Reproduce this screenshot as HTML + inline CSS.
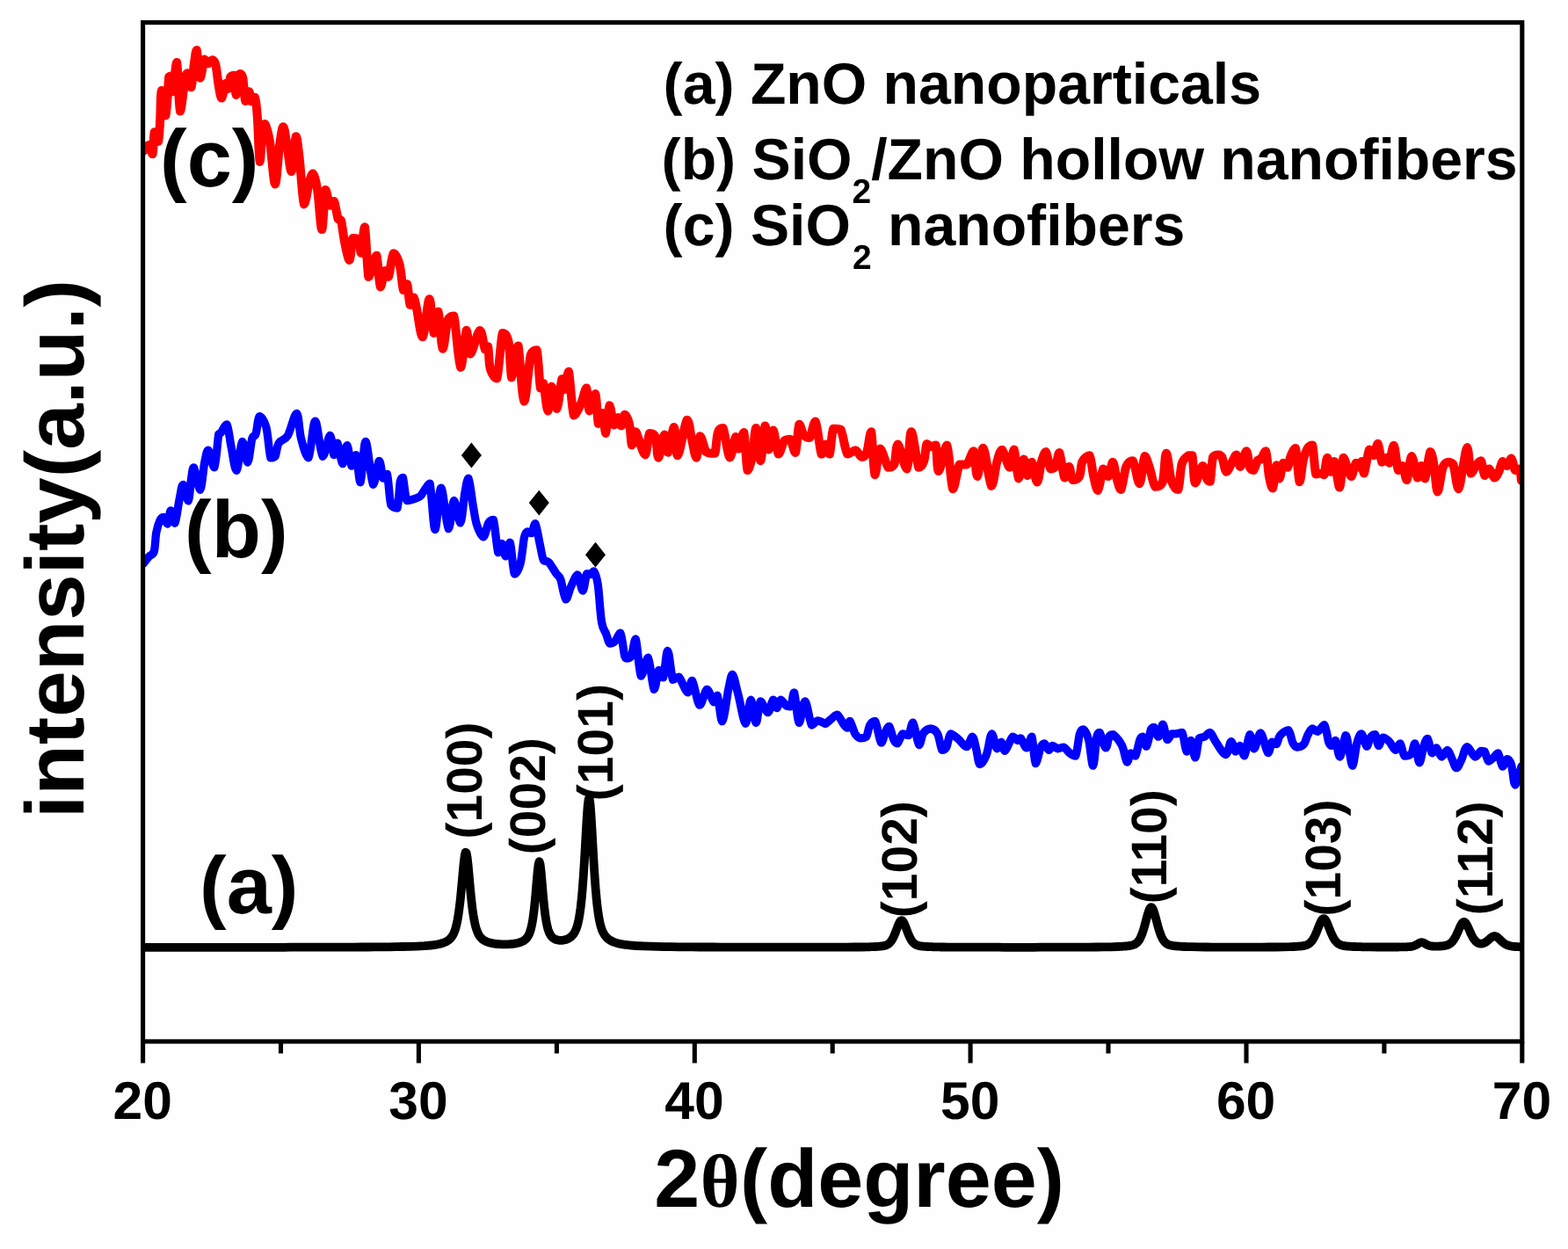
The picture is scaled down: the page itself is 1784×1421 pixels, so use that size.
<!DOCTYPE html>
<html lang="en">
<head>
<meta charset="utf-8">
<title>XRD patterns of ZnO nanoparticles, SiO2/ZnO hollow nanofibers and SiO2 nanofibers</title>
<style>
html,body{margin:0;padding:0;background:#fff;}
body{width:1784px;height:1421px;overflow:hidden;}
svg{display:block;}
text{font-family:"Liberation Sans",sans-serif;font-weight:bold;fill:#000;text-rendering:geometricPrecision;}
.sym{font-family:"Liberation Serif",serif;font-weight:bold;}
</style>
</head>
<body>
<svg width="1784" height="1421" viewBox="0 0 1784 1421">
<rect x="0" y="0" width="1784" height="1421" fill="#fefefe"/>
<defs><clipPath id="plot"><rect x="162.6" y="25.6" width="1569.2" height="1159.3"/></clipPath></defs>
<!-- data curves -->
<g fill="none" stroke-linejoin="round" stroke-linecap="round" clip-path="url(#plot)">
<path id="curve-c" stroke="#ff0000" stroke-width="10" d="M163.5,171.6 C164.5,170.5 167.7,165.1 169.4,165.1 C171.1,165.8 172.6,175.3 173.6,175.3
C174.7,172.8 174.6,152.7 175.7,150.3 C176.7,150.3 179.0,160.9 180.1,160.9 C181.1,158.9 181.5,147.8 182.1,138.1
C182.7,128.5 182.7,104.1 183.8,103.0 C184.9,103.0 187.1,131.4 188.5,131.4 C189.9,128.8 191.3,94.9 192.2,87.4
C193.2,86.6 193.6,86.6 194.3,86.6 C195.0,89.4 195.3,104.3 196.5,104.3 C197.6,101.7 199.8,70.9 201.2,70.9
C202.6,74.6 203.3,123.9 204.9,126.6 C206.5,126.6 209.3,94.7 210.8,87.4 C212.3,83.2 212.6,83.2 213.7,83.2
C214.8,85.2 216.4,99.3 217.6,99.3 C218.8,97.4 219.9,79.3 220.9,72.2 C222.0,65.2 222.7,57.0 223.8,57.0
C224.9,59.8 226.3,87.0 227.7,88.8 C229.1,88.8 230.9,70.3 232.4,67.5 C234.0,67.5 235.5,72.1 237.0,72.2
C238.5,72.2 240.1,68.2 241.6,68.2 C243.0,68.5 244.2,69.0 245.4,73.9 C246.6,78.8 247.7,91.3 248.8,97.6
C249.9,103.8 250.9,111.6 252.2,111.6 C253.5,111.2 255.2,96.8 256.4,95.0 C257.6,95.0 258.5,100.9 259.5,100.9
C260.4,99.7 261.1,90.0 262.3,87.4 C263.5,85.7 265.5,85.7 266.6,85.7 C267.6,89.2 267.5,108.0 268.6,108.0
C269.7,107.8 271.7,87.2 273.0,84.1 C274.3,84.1 275.3,84.1 276.4,89.1 C277.4,94.3 278.0,112.4 279.2,115.0
C280.4,115.0 282.4,104.3 283.4,104.3 C284.5,104.4 284.6,114.2 285.6,115.3 C286.7,115.3 288.7,110.7 289.9,110.7
C291.0,113.4 291.8,119.1 292.7,131.4 C293.7,143.6 294.6,181.8 295.6,184.1 C296.6,184.1 297.7,152.0 298.6,144.9
C299.6,141.0 300.1,141.0 301.5,141.0 C302.9,143.8 305.2,150.4 307.1,161.8 C309.0,173.2 311.2,208.8 313.0,209.4
C314.8,209.4 316.5,176.0 318.1,165.1 C319.6,154.3 320.9,144.2 322.3,144.2 C323.7,144.2 325.0,156.6 326.5,165.1
C328.1,173.6 329.9,195.2 331.6,195.2 C333.3,193.6 335.1,157.5 336.7,155.3 C338.2,155.3 339.3,169.2 340.9,182.0
C342.4,194.9 344.1,228.1 345.9,232.4 C347.8,232.4 350.2,213.2 351.9,207.4 C353.5,201.6 354.5,197.6 356.1,197.6
C357.6,199.0 359.5,205.2 361.1,215.8 C362.8,226.4 364.7,261.0 366.2,261.1 C367.7,261.1 368.8,220.6 370.3,216.0
C371.8,216.0 373.7,231.6 375.3,233.8 C377.0,233.8 378.5,229.1 380.1,229.1 C381.6,231.6 383.3,245.4 384.6,249.0
C386.0,250.7 386.7,249.0 388.0,250.7 C389.3,255.2 390.6,268.5 392.2,276.0 C393.8,283.6 396.1,295.9 397.6,295.9
C399.2,295.1 399.7,274.8 401.5,270.9 C403.3,270.9 406.7,270.9 408.3,272.6 C409.8,275.5 409.7,287.8 410.8,287.8
C411.9,285.4 413.6,258.3 415.0,258.3 C416.4,262.8 417.7,307.7 419.3,314.9 C420.8,314.9 422.8,305.4 424.3,301.4
C425.9,297.3 427.1,290.7 428.5,290.7 C430.0,294.9 431.2,323.5 432.8,326.4 C434.3,326.4 436.3,310.0 437.8,308.1
C439.4,308.1 440.4,314.9 442.1,314.9 C443.7,311.6 445.5,290.6 447.6,288.3 C449.7,288.3 452.8,294.4 454.7,301.4
C456.6,308.3 457.5,326.4 459.0,330.1 C460.4,330.1 461.9,323.3 463.2,323.3 C464.4,326.1 465.3,344.4 466.6,347.0
C467.8,347.0 469.5,338.5 470.8,338.5 C472.0,339.4 472.5,344.6 474.2,352.0 C475.8,359.5 478.5,383.3 480.9,383.3
C483.3,381.3 486.4,340.9 488.5,340.2 C490.6,340.2 491.9,376.7 493.6,379.1 C495.3,379.1 497.0,354.6 498.6,354.6
C500.3,357.5 501.9,395.2 503.7,396.8 C505.5,396.8 507.5,370.0 509.6,363.9 C511.7,359.6 514.0,359.6 516.4,359.6
C518.8,368.6 521.6,415.2 524.0,417.9 C526.4,417.9 528.9,378.2 530.7,375.7 C532.6,375.7 532.4,402.6 535.0,402.7
C537.5,402.7 543.1,376.9 545.9,376.0 C548.8,376.0 550.3,394.6 551.9,397.6 C553.4,397.6 554.3,394.3 555.2,394.3
C556.2,397.9 556.1,413.5 557.8,419.6 C559.5,425.6 563.1,430.5 565.4,430.5 C567.7,423.8 569.6,385.8 571.8,378.9
C574.0,378.9 576.9,380.5 578.6,389.0 C580.3,397.4 580.8,426.4 582.0,429.5 C583.1,429.5 584.1,413.6 585.3,407.6
C586.6,401.5 587.7,393.4 589.6,393.4 C591.4,401.5 593.9,454.9 596.3,456.6 C598.7,456.6 601.5,413.1 603.9,403.3
C606.3,398.3 608.8,398.3 610.7,398.3 C612.5,404.6 613.6,435.0 614.9,441.4 C616.2,441.4 616.9,436.3 618.3,436.3
C619.7,440.6 621.8,467.0 623.3,467.5 C624.9,467.5 625.9,440.1 627.6,439.7 C629.3,439.7 631.5,465.0 633.5,465.0
C635.5,463.6 637.8,434.9 639.4,431.2 C640.9,431.2 641.5,443.0 642.8,443.0 C644.0,441.6 645.3,422.8 647.0,422.8
C648.7,427.7 650.5,466.7 652.9,472.6 C655.3,472.6 659.0,463.5 661.4,458.2 C663.7,453.0 665.7,441.4 667.3,441.4
C668.8,442.9 669.0,466.4 670.6,467.5 C672.3,467.5 675.7,448.1 677.4,448.1 C679.1,450.5 679.4,478.2 680.8,481.9
C682.2,481.9 684.4,470.1 685.8,470.1 C687.3,471.9 688.0,492.9 689.2,492.9 C690.5,491.4 691.9,462.8 693.4,461.3
C695.0,461.3 696.8,481.3 698.5,483.6 C700.2,483.6 702.2,475.1 703.6,475.1 C705.0,475.3 705.7,484.4 707.0,484.4
C708.2,483.9 709.3,471.9 710.8,471.8 C712.4,471.8 714.9,477.8 716.2,483.6 C717.6,489.4 717.7,505.1 718.8,506.4
C719.9,506.4 721.7,492.4 723.0,491.2 C724.3,491.2 724.6,494.4 726.4,498.8 C728.2,503.1 731.9,517.4 734.0,517.4
C736.1,516.4 737.1,496.2 739.1,492.9 C741.0,492.9 744.1,492.9 745.8,497.1 C747.5,501.7 747.5,520.7 749.2,520.7
C750.9,520.3 754.1,495.5 755.9,494.6 C757.8,494.6 758.3,514.8 760.2,514.8 C762.0,513.4 765.1,486.1 766.9,486.1
C768.8,486.7 768.7,518.2 771.1,518.2 C773.6,516.8 778.9,480.6 781.6,477.7 C784.3,477.7 785.4,493.3 787.2,500.5
C789.0,507.7 790.7,520.7 792.3,520.7 C793.8,520.0 794.7,497.4 796.5,496.2 C798.3,496.2 801.3,510.7 803.2,514.0
C805.2,515.7 806.6,515.4 808.3,515.7 C810.0,515.7 812.0,515.7 813.4,515.7 C814.8,511.7 815.2,496.8 816.8,492.0
C818.3,487.2 820.4,487.0 822.7,487.0 C824.9,491.7 827.9,518.7 830.3,520.4 C832.7,520.4 835.3,498.7 837.0,497.1
C838.7,497.1 838.9,510.6 840.4,510.6 C842.0,509.8 844.6,492.0 846.3,492.0 C848.0,496.1 848.9,530.8 850.5,535.1
C852.1,535.1 854.4,526.3 856.0,518.2 C857.7,510.2 858.7,487.0 860.3,487.0 C861.8,488.0 863.6,524.2 865.3,524.2
C867.0,523.7 868.9,486.6 870.4,484.5 C872.0,484.5 873.1,510.6 874.6,511.5 C876.2,511.5 877.9,489.5 879.7,489.5
C881.5,490.4 883.5,514.6 885.6,516.6 C887.7,516.6 890.1,504.2 892.4,501.4 C894.6,499.7 897.0,499.7 899.1,499.7
C901.2,501.9 903.3,514.9 905.0,514.9 C906.7,512.0 907.7,486.1 909.3,482.8 C910.8,482.8 912.4,492.1 914.3,494.6
C916.3,497.1 918.8,498.0 921.1,498.0 C923.3,495.4 925.6,479.4 927.8,479.4 C930.1,482.5 932.6,512.2 934.6,516.6
C936.6,516.6 938.1,505.6 939.7,505.6 C941.2,505.6 942.5,516.6 943.9,516.6 C945.3,513.6 946.0,492.5 948.1,487.8
C950.2,487.8 953.9,487.8 956.6,488.7 C959.2,493.5 961.3,512.6 964.2,516.6 C967.0,516.6 970.8,512.3 973.4,512.3
C976.1,512.9 978.1,519.5 980.2,519.9 C982.3,519.9 984.3,519.7 986.1,514.9 C987.9,510.1 989.6,491.2 991.2,491.2
C992.7,495.4 993.7,537.0 995.4,540.2 C997.1,540.2 998.8,512.0 1001.3,510.6
C1003.9,510.6 1007.9,528.8 1010.6,531.8 C1013.3,531.8 1015.5,531.8 1017.4,528.4
C1019.2,524.0 1019.2,505.6 1021.6,505.6 C1024.0,506.4 1029.2,533.4 1031.7,533.4
C1034.3,531.1 1034.5,491.5 1036.8,491.2 C1039.0,491.2 1042.8,526.1 1045.2,531.8
C1047.6,531.8 1049.6,529.4 1051.1,525.0 C1052.7,520.6 1053.1,507.9 1054.5,505.1
C1055.9,505.1 1057.9,507.9 1059.6,508.1 C1061.3,508.1 1063.3,506.4 1064.7,506.4
C1066.1,511.1 1065.9,536.0 1068.0,536.0 C1070.2,536.0 1074.7,506.4 1077.3,506.4
C1080.0,509.8 1081.7,552.6 1084.1,556.2 C1086.5,556.2 1089.0,533.0 1091.7,528.4
C1094.4,528.4 1097.5,528.4 1100.1,528.4 C1102.8,525.8 1105.8,513.2 1107.7,513.2
C1109.7,515.4 1110.1,541.9 1112.0,541.9 C1113.8,541.3 1116.1,509.8 1118.7,509.8
C1121.4,511.6 1125.3,550.3 1127.9,552.9 C1130.5,552.9 1132.3,531.8 1134.4,525.0
C1136.4,518.2 1137.9,511.8 1140.3,511.8 C1142.7,513.0 1146.5,531.8 1148.7,531.8
C1151.0,531.7 1152.1,511.5 1153.8,511.5 C1155.5,513.6 1157.0,542.6 1158.9,544.4
C1160.7,544.4 1163.1,523.0 1164.8,522.5 C1166.5,522.5 1167.4,540.5 1169.0,541.0
C1170.5,541.0 1172.2,525.8 1174.1,525.8 C1175.9,527.1 1178.1,548.6 1180.0,548.6
C1181.8,548.5 1183.3,530.8 1185.0,525.0 C1186.7,519.2 1188.4,514.0 1190.1,514.0
C1191.8,515.4 1193.3,530.8 1195.2,533.4 C1197.0,533.4 1199.4,533.2 1201.1,530.1
C1202.8,527.0 1203.6,514.9 1205.3,514.9 C1207.0,517.1 1209.4,540.9 1211.2,543.6
C1213.0,543.6 1214.7,530.9 1216.3,530.9 C1217.8,531.3 1218.5,544.3 1220.5,546.1
C1222.5,546.1 1226.3,545.4 1228.1,541.9 C1229.9,538.4 1229.6,528.9 1231.5,525.0
C1233.4,521.1 1237.5,518.2 1239.6,518.2 C1241.7,521.1 1242.6,535.3 1244.2,541.9
C1245.8,548.5 1247.4,557.9 1249.2,557.9 C1251.1,556.5 1253.2,536.1 1255.1,533.4
C1257.1,533.4 1259.2,541.9 1261.0,541.9 C1262.9,540.6 1264.6,525.8 1266.1,525.8
C1267.7,526.1 1268.8,538.4 1270.3,543.6 C1271.9,548.8 1273.6,557.1 1275.4,557.1
C1277.2,555.0 1279.1,536.4 1281.3,530.9 C1283.6,525.4 1286.4,524.2 1288.9,524.2
C1291.5,527.4 1294.3,550.3 1296.5,550.3 C1298.8,549.5 1300.5,521.9 1302.4,519.1
C1304.4,519.1 1306.4,527.7 1308.3,533.4 C1310.3,539.2 1311.9,551.2 1314.3,553.7
C1316.6,553.7 1320.6,553.7 1322.7,548.6 C1324.8,542.3 1325.2,516.0 1326.9,515.7
C1328.6,515.7 1330.6,540.1 1332.8,547.0 C1335.1,553.9 1338.5,557.1 1340.4,557.1
C1342.4,553.9 1342.7,534.0 1344.7,527.5 C1346.6,521.1 1350.3,519.8 1352.3,518.2
C1354.2,518.2 1355.2,518.2 1356.5,518.2 C1357.8,523.5 1357.9,547.5 1359.9,549.5
C1361.8,549.5 1366.1,530.8 1368.3,530.1 C1370.6,530.1 1372.0,542.3 1373.4,545.3
C1374.8,547.8 1375.6,547.8 1376.8,547.8 C1377.9,543.6 1378.6,525.0 1380.1,519.9
C1381.7,517.4 1384.4,517.4 1386.0,517.4 C1387.7,517.4 1388.7,517.4 1390.3,519.9
C1391.8,523.2 1393.4,536.0 1395.3,536.8 C1397.3,536.8 1400.2,528.2 1402.1,525.0
C1404.0,521.8 1405.2,517.4 1406.8,517.4 C1408.3,518.4 1409.4,530.9 1411.3,530.9
C1413.2,530.2 1416.3,513.2 1418.1,513.2 C1419.8,513.3 1420.6,528.1 1422.0,531.8
C1423.3,535.1 1424.6,535.1 1426.2,535.1 C1427.7,533.7 1429.8,525.4 1431.2,523.3
C1432.7,522.5 1433.1,523.3 1434.6,522.5 C1436.1,520.8 1438.7,513.2 1440.2,513.2
C1441.8,516.4 1442.6,534.9 1443.9,541.9 C1445.2,548.9 1446.7,555.4 1448.1,555.4
C1449.5,553.3 1451.1,531.1 1452.4,529.2 C1453.6,529.2 1454.5,544.4 1455.7,544.4
C1457.0,544.0 1458.4,528.8 1460.0,526.7 C1461.5,526.7 1463.6,531.8 1465.0,531.8
C1466.4,530.5 1466.9,522.7 1468.4,519.1 C1469.9,515.5 1472.3,510.1 1474.0,510.1
C1475.7,515.0 1477.1,546.1 1478.5,548.3 C1480.0,548.3 1481.2,529.7 1482.8,523.3
C1484.3,516.9 1486.1,512.6 1487.8,509.8 C1489.6,507.0 1491.7,506.4 1493.2,506.4
C1494.8,511.3 1495.5,534.0 1497.1,539.4 C1498.8,539.4 1501.5,538.5 1503.0,538.5
C1504.6,538.7 1505.2,540.2 1506.4,540.2 C1507.6,537.2 1508.9,521.3 1510.1,520.8
C1511.4,520.8 1512.7,536.1 1514.0,536.8 C1515.4,536.8 1516.6,525.0 1518.2,525.0
C1519.9,528.0 1522.5,554.6 1524.2,554.6 C1525.8,553.9 1526.8,524.3 1528.4,520.8
C1529.9,520.8 1531.9,529.9 1533.4,533.4 C1535.0,537.0 1536.1,541.9 1537.7,541.9
C1539.2,540.8 1541.2,528.4 1542.7,526.7 C1544.3,526.7 1545.8,531.8 1547.0,531.8
C1548.1,531.5 1548.6,525.0 1549.5,525.0 C1550.3,526.1 1550.6,538.5 1552.0,538.5
C1553.4,536.3 1556.1,514.9 1557.9,511.5 C1559.8,511.5 1561.4,518.2 1563.0,518.2
C1564.6,517.1 1566.2,504.7 1567.7,504.7 C1569.3,506.0 1570.7,523.2 1572.3,525.8
C1573.9,525.8 1576.0,520.8 1577.4,520.8 C1578.8,520.9 1579.3,526.7 1580.7,526.7
C1582.2,524.4 1584.1,506.8 1585.8,506.8 C1587.5,508.2 1589.2,531.2 1590.9,535.1
C1592.6,535.1 1594.3,530.1 1595.9,530.1 C1597.6,531.9 1599.0,546.1 1600.7,546.1
C1602.4,544.3 1604.1,519.5 1606.1,519.1 C1608.1,519.1 1611.0,541.8 1612.8,543.6
C1614.7,543.6 1615.7,530.1 1617.1,530.1 C1618.5,530.2 1619.6,544.4 1621.3,544.4
C1623.0,541.8 1625.5,516.7 1627.2,514.0 C1628.9,514.0 1630.0,520.8 1631.4,528.4
C1632.8,536.0 1634.0,559.1 1635.6,559.6 C1637.3,559.6 1639.6,537.4 1641.6,531.8
C1643.5,526.1 1645.5,526.4 1647.5,525.8 C1649.4,525.8 1651.4,525.8 1653.4,528.4
C1655.3,533.4 1657.5,555.7 1659.3,556.2 C1661.1,556.2 1662.7,539.6 1664.4,531.8
C1666.0,523.9 1667.9,509.0 1669.4,509.0 C1671.0,510.1 1672.0,535.1 1673.6,538.5
C1675.3,538.5 1677.7,531.6 1679.6,529.2 C1681.5,526.8 1683.4,524.2 1685.0,524.2
C1686.6,526.1 1687.7,539.5 1689.2,541.0 C1690.8,541.0 1692.5,533.4 1694.3,533.4
C1696.1,533.9 1698.4,543.0 1700.2,543.6 C1702.0,543.6 1703.7,539.9 1705.3,536.8
C1706.8,533.7 1708.0,526.1 1709.5,525.0 C1711.1,525.0 1712.9,530.1 1714.6,530.1
C1716.3,529.5 1718.1,521.6 1719.6,521.6 C1721.2,522.5 1722.3,533.2 1723.9,535.1
C1725.4,535.1 1727.8,533.4 1728.9,533.4 C1730.1,535.4 1730.6,544.7 1731.0,547.0"/>
<path id="curve-b" stroke="#0000ff" stroke-width="9.3" d="M163.5,640.9 C164.5,639.6 167.5,635.5 169.4,633.3 C171.4,631.0 173.9,632.0 175.3,627.4
C176.7,622.7 176.7,611.3 177.9,605.4 C179.0,599.5 180.7,594.7 182.1,591.9 C183.5,589.1 184.9,588.5 186.3,588.5
C187.7,589.2 189.2,596.1 190.5,596.1 C191.9,594.8 192.8,581.1 194.3,580.9 C195.7,580.9 197.4,595.3 199.0,595.3
C200.6,593.2 202.5,575.6 204.1,568.2 C205.6,560.9 206.6,551.4 208.3,551.4 C210.0,551.6 212.6,569.9 214.2,569.9
C215.7,568.8 216.5,550.9 217.6,544.6 C218.6,538.3 218.9,531.9 220.6,531.9 C222.3,534.0 225.7,557.3 227.7,557.3
C229.7,556.3 231.2,533.5 232.8,526.0 C234.3,518.5 235.2,512.2 237.0,512.2 C238.8,513.1 241.8,531.9 243.8,531.9
C245.7,528.9 247.6,500.5 248.8,493.9 C250.1,492.2 249.8,493.9 251.4,492.2 C252.9,490.4 256.1,482.9 258.1,482.9
C260.1,485.8 261.3,500.4 263.2,509.1 C265.0,517.8 267.0,535.3 269.1,535.3 C271.2,534.2 273.7,503.9 275.8,502.4
C278.0,502.4 279.9,526.0 281.8,526.0 C283.6,525.5 285.3,504.3 286.8,499.0 C288.4,493.9 289.6,498.1 291.0,493.9
C292.5,489.7 293.3,474.9 295.3,473.6 C297.2,473.6 300.8,478.4 302.9,486.3 C305.0,494.2 306.2,515.5 307.9,520.9
C309.6,520.9 311.5,520.9 313.0,519.3 C314.6,516.4 314.8,508.0 317.2,504.1 C319.6,500.1 324.0,501.2 327.4,495.6
C330.7,490.0 335.0,470.3 337.5,470.3 C340.0,470.8 340.3,490.5 342.6,499.0 C344.8,507.4 348.3,520.9 351.0,520.9
C353.7,517.6 355.9,479.3 358.6,479.1 C361.3,479.1 364.2,516.6 367.1,519.3 C369.9,519.3 373.4,495.6 375.5,495.3
C377.6,495.3 378.3,516.1 379.7,517.6 C381.1,517.6 382.3,504.1 384.0,504.1 C385.6,505.7 388.0,527.3 389.9,527.7
C391.7,527.7 393.2,506.6 394.9,506.6 C396.6,507.0 398.3,528.4 400.0,530.2 C401.7,530.2 403.4,517.6 405.1,517.6
C406.8,520.7 408.3,548.8 410.1,548.8 C412.0,546.3 413.7,502.4 416.0,502.4 C418.4,502.8 421.9,547.7 424.5,551.4
C427.0,551.4 429.4,525.5 431.4,524.3 C433.3,524.3 434.4,541.7 435.9,544.2 C437.4,544.2 439.0,539.5 440.5,539.5
C442.0,544.5 443.0,568.2 444.9,574.6 C446.8,578.0 450.2,578.0 452.0,578.0 C453.7,573.5 454.3,553.3 455.3,547.6
C456.4,543.3 457.1,543.3 458.4,543.3 C459.6,547.0 460.9,565.4 462.9,569.5 C465.0,569.5 468.0,568.7 470.5,567.8
C473.1,567.0 475.9,566.4 478.1,564.5 C480.4,562.5 482.2,558.4 484.1,556.0 C485.9,553.6 487.3,550.1 489.1,550.1
C491.0,557.8 492.9,601.6 495.0,602.5 C497.1,602.5 499.3,555.3 501.8,555.2 C504.3,555.2 507.8,599.2 510.2,601.6
C512.7,601.6 514.2,570.7 516.5,569.5 C518.7,569.5 521.7,594.9 523.8,594.9 C525.8,593.5 527.3,569.5 528.8,561.1
C530.4,552.6 531.5,544.2 533.0,544.2 C534.6,546.4 536.6,565.9 538.1,574.6 C539.7,583.3 540.4,590.5 542.3,596.6
C544.3,602.6 547.7,610.9 549.9,610.9 C552.2,610.6 553.9,598.1 555.8,594.9 C557.8,591.6 559.6,591.5 561.4,591.5
C563.2,597.1 565.2,624.1 566.8,628.6 C568.4,628.6 569.6,618.5 571.0,618.5 C572.5,619.2 573.7,632.9 575.3,632.9
C576.8,632.6 578.6,617.2 580.3,617.2 C582.0,620.5 583.4,649.3 585.4,653.1 C587.4,653.1 590.3,647.4 592.2,640.5
C594.0,633.6 595.1,617.7 596.4,611.8 C597.7,605.8 598.4,605.8 599.8,605.0 C601.2,605.0 603.3,606.7 604.8,606.7
C606.4,605.1 607.5,595.7 609.1,595.7 C610.6,597.7 612.6,611.6 614.1,618.5 C615.7,625.4 616.7,633.6 618.3,637.1
C620.0,639.6 621.9,637.1 624.3,639.6 C626.6,642.2 630.5,649.1 632.7,652.3 C635.0,655.5 635.9,654.1 637.8,659.1
C639.6,664.0 641.7,680.5 643.7,681.9 C645.7,681.9 647.3,672.1 649.6,667.5 C651.8,662.9 655.0,654.0 657.2,654.0
C659.4,654.8 661.3,672.1 663.0,672.1 C664.8,671.9 666.1,655.8 667.6,652.7 C669.1,652.7 670.5,653.5 671.8,653.5
C673.2,653.0 674.3,649.8 675.7,649.8 C677.1,651.8 678.8,655.7 680.3,665.3 C681.7,675.0 682.9,698.3 684.5,707.6
C686.0,716.9 688.0,717.0 689.6,721.1 C691.1,725.2 692.1,730.7 693.8,732.1 C695.5,732.1 697.7,731.5 699.7,729.5
C701.7,727.6 704.1,720.2 705.9,720.2 C707.8,723.1 709.5,741.6 710.7,746.4 C711.9,749.0 711.9,749.0 713.2,749.0
C714.5,749.0 716.6,749.0 718.3,746.4 C720.0,742.8 721.5,727.0 723.3,727.0 C725.2,730.8 726.9,765.7 729.3,769.2
C731.6,769.2 734.9,748.1 737.4,748.1 C739.8,750.6 742.1,782.0 744.1,784.4 C746.1,784.4 747.8,764.7 749.5,762.5
C751.3,762.5 752.9,770.9 754.6,770.9 C756.3,767.3 757.8,740.5 759.7,740.5 C761.5,740.9 763.5,768.5 765.6,773.4
C767.7,773.4 769.5,770.1 772.3,770.1 C775.1,772.5 779.9,787.1 782.5,787.8 C785.0,787.8 785.3,774.3 787.5,774.3
C789.8,776.7 793.2,800.5 796.0,802.2 C798.8,802.2 801.8,785.0 804.4,784.4 C807.1,784.4 810.1,797.7 812.0,798.8
C814.0,798.8 814.6,791.2 816.2,791.2 C817.9,794.8 819.7,820.7 821.8,820.7 C823.9,819.5 827.0,792.4 828.9,783.6
C830.9,774.7 831.6,767.5 833.5,767.5 C835.3,768.7 837.4,781.0 839.9,790.3 C842.4,799.6 846.0,822.3 848.3,823.3
C850.7,823.3 852.3,796.4 854.3,796.2 C856.2,796.2 858.3,822.2 860.2,822.4 C862.0,822.4 863.0,799.9 865.2,797.9
C867.5,797.9 871.3,810.6 873.7,810.6 C876.1,810.3 877.9,797.1 879.6,796.2 C881.3,796.2 882.4,805.5 883.8,805.5
C885.2,805.5 886.2,796.7 888.0,796.2 C889.9,796.2 892.8,801.7 894.8,803.0 C896.8,803.9 898.4,803.9 899.9,803.9
C901.3,801.3 902.0,787.8 903.6,787.8 C905.1,790.9 907.1,820.7 909.2,822.4 C911.2,822.4 913.5,797.9 915.9,797.9
C918.3,798.4 921.1,821.3 923.5,825.0 C925.9,825.0 927.7,820.2 930.3,819.9 C932.8,819.9 937.1,822.8 938.7,823.3
C940.0,823.3 938.7,823.3 940.0,823.0 C941.3,822.0 944.6,818.8 946.8,817.1 C948.9,815.5 950.4,813.1 952.7,813.1
C954.9,814.3 958.3,822.2 960.3,824.7 C962.2,827.2 963.4,828.1 964.5,828.1 C965.6,827.4 965.6,820.5 967.0,820.5
C968.4,821.6 971.0,831.6 972.9,834.9 C974.9,838.1 976.7,839.4 978.9,839.9 C981.0,839.9 983.8,839.9 985.6,838.2
C987.4,835.7 988.1,827.7 989.8,824.7 C991.5,821.8 993.6,820.5 995.7,820.5
C997.9,823.9 1000.5,843.0 1002.5,845.0 C1004.5,845.0 1006.0,835.4 1007.6,832.3
C1009.1,829.2 1010.2,826.4 1011.8,826.4 C1013.3,828.0 1015.3,838.4 1016.9,841.6
C1018.4,844.9 1019.4,845.8 1021.1,845.8 C1022.8,844.7 1024.9,836.4 1027.0,834.9
C1029.1,834.9 1031.8,836.6 1033.8,836.6 C1035.7,834.4 1036.8,822.2 1038.8,822.2
C1040.8,824.0 1043.6,845.6 1045.6,847.5 C1047.5,847.5 1048.4,837.1 1050.6,834.0
C1052.9,830.9 1056.4,829.0 1059.1,829.0 C1061.8,829.1 1064.6,830.8 1066.7,834.9
C1068.8,838.9 1070.1,850.9 1071.8,853.4 C1073.4,853.4 1075.2,853.2 1076.8,850.1
C1078.5,847.0 1079.3,836.4 1081.6,834.9 C1083.8,834.9 1087.3,838.3 1090.3,840.8
C1093.4,843.3 1097.0,849.7 1099.6,849.7 C1102.3,849.3 1104.6,838.2 1106.4,838.2
C1108.2,838.6 1109.2,846.5 1110.6,851.8 C1112.0,857.0 1112.9,868.4 1114.8,869.5
C1116.8,869.5 1120.2,864.3 1122.4,858.5 C1124.7,852.7 1126.4,836.0 1128.3,834.9
C1130.3,834.9 1132.4,850.2 1134.3,851.8 C1136.1,851.8 1137.8,844.2 1139.3,844.2
C1140.9,844.6 1141.4,854.3 1143.5,854.3 C1145.7,853.3 1149.6,840.2 1152.0,838.2
C1154.4,838.2 1156.4,842.2 1157.9,842.5 C1159.5,842.5 1159.6,839.9 1161.3,839.9
C1163.0,841.3 1165.9,850.9 1168.0,850.9 C1170.2,850.6 1172.3,838.2 1174.0,838.2
C1175.6,841.2 1176.5,866.7 1178.2,868.6 C1179.9,868.6 1182.4,853.9 1184.1,850.1
C1185.8,846.3 1186.8,845.8 1188.3,845.8 C1189.9,846.4 1191.8,853.0 1193.4,853.4
C1194.9,853.4 1195.9,848.7 1197.6,848.4 C1199.3,848.4 1201.4,851.5 1203.5,851.8
C1205.6,851.8 1208.0,850.1 1210.3,850.1 C1212.5,850.9 1214.8,855.1 1217.0,856.8
C1219.3,858.5 1221.8,860.2 1223.7,860.2 C1225.6,856.5 1227.0,839.9 1228.4,834.9
C1229.9,829.8 1231.0,829.8 1232.7,829.8 C1234.4,830.9 1236.8,834.7 1238.6,841.6
C1240.4,848.5 1242.1,871.2 1243.6,871.2 C1245.2,870.6 1246.6,844.5 1247.9,838.2
C1249.1,833.5 1249.6,833.5 1251.2,833.5 C1252.9,835.6 1256.2,850.3 1258.0,850.9
C1259.8,850.9 1260.8,839.9 1262.2,837.4 C1263.6,835.7 1264.1,835.7 1266.5,835.7
C1268.8,837.5 1274.0,843.2 1276.6,848.4 C1279.2,853.6 1280.5,865.6 1282.2,867.0
C1283.9,867.0 1285.1,858.0 1286.7,856.8 C1288.3,856.8 1290.1,860.2 1291.8,860.2
C1293.5,857.7 1295.5,845.3 1296.9,841.6 C1298.3,838.2 1299.0,838.2 1300.2,838.2
C1301.5,839.5 1302.9,849.2 1304.5,849.2 C1306.0,847.8 1308.1,833.5 1309.5,829.8
C1310.9,827.3 1311.5,827.3 1312.9,827.3 C1314.3,828.7 1316.3,838.2 1318.0,838.2
C1319.7,837.7 1321.4,824.2 1323.0,824.2 C1324.7,824.8 1326.4,839.8 1328.1,841.6
C1329.8,841.6 1331.5,836.0 1333.2,834.9 C1334.9,834.9 1336.3,834.9 1338.2,834.9
C1340.2,834.6 1343.0,833.5 1345.0,833.5 C1347.0,836.9 1348.4,853.6 1350.1,855.1
C1351.8,855.1 1353.5,842.5 1355.1,842.5 C1356.8,843.6 1358.3,861.9 1359.9,861.9
C1361.4,861.5 1362.7,843.9 1364.4,839.9 C1366.2,838.2 1368.3,839.3 1370.3,838.2
C1372.4,837.2 1374.5,833.5 1376.8,833.5 C1379.0,834.6 1380.9,840.8 1383.9,845.0
C1386.8,849.2 1391.7,858.5 1394.5,858.5 C1397.3,858.3 1398.9,844.2 1400.7,843.6
C1402.6,843.6 1404.1,854.3 1405.8,855.1 C1407.5,855.1 1409.2,848.4 1410.9,848.4
C1412.6,849.2 1414.1,859.9 1415.9,859.9 C1417.8,857.8 1420.0,837.1 1421.9,835.7
C1423.7,835.7 1424.9,851.8 1426.9,851.8 C1429.0,851.5 1431.6,834.0 1434.2,834.0
C1436.8,834.8 1440.5,854.8 1442.6,856.5 C1444.8,856.5 1445.6,845.8 1447.2,844.2
C1448.8,844.2 1450.7,846.7 1452.3,846.7 C1453.8,845.4 1454.2,839.2 1456.5,836.6
C1458.7,833.9 1463.4,830.6 1465.8,830.6 C1468.2,832.0 1469.2,841.8 1470.8,845.0
C1472.5,848.2 1473.8,849.8 1475.9,850.1 C1478.0,850.1 1481.5,848.9 1483.5,846.7
C1485.5,844.4 1486.2,839.5 1487.7,836.6 C1489.3,833.6 1490.9,829.7 1492.8,829.0
C1494.7,829.0 1496.9,832.3 1499.2,832.3 C1501.5,831.6 1504.7,824.7 1506.8,824.7
C1508.9,826.8 1510.5,841.1 1511.9,845.0 C1513.3,848.4 1514.0,848.4 1515.2,848.4
C1516.5,848.0 1517.9,842.5 1519.5,842.5 C1521.0,844.6 1522.6,861.0 1524.5,861.0
C1526.5,860.1 1529.3,838.1 1531.0,836.6 C1532.6,836.6 1533.4,846.0 1534.7,851.8
C1536.0,857.5 1537.4,871.2 1538.9,871.2 C1540.4,870.1 1542.3,851.1 1544.0,845.0
C1545.7,838.9 1547.2,834.9 1549.0,834.9 C1550.9,835.6 1553.3,848.5 1554.9,849.2
C1556.6,849.2 1557.5,841.3 1559.2,839.1 C1560.8,836.8 1563.2,835.7 1564.7,835.7
C1566.3,837.3 1567.0,847.8 1568.5,848.4 C1569.9,848.4 1571.6,839.9 1573.5,839.1
C1575.5,839.1 1577.9,840.9 1580.3,843.3 C1582.7,845.7 1585.8,853.0 1587.9,853.4
C1590.0,853.4 1591.3,845.8 1593.0,845.8 C1594.6,847.0 1595.9,858.2 1598.0,860.2
C1600.1,860.2 1603.7,860.1 1605.6,857.7 C1607.6,855.3 1608.3,845.8 1609.8,845.8
C1611.4,847.5 1613.2,867.4 1614.9,867.8 C1616.6,867.8 1618.4,853.0 1620.0,848.4
C1621.5,843.8 1622.7,840.3 1624.2,840.3 C1625.8,841.7 1627.6,855.1 1629.3,856.8
C1631.0,856.8 1632.5,850.9 1634.3,850.9 C1636.2,851.6 1638.1,860.6 1640.2,861.0
C1642.4,861.0 1645.0,853.4 1647.0,853.4 C1649.0,853.9 1650.4,860.2 1652.1,863.6
C1653.8,867.0 1655.3,873.7 1657.1,873.7 C1659.0,873.7 1661.1,867.6 1663.1,863.6
C1665.0,859.6 1666.4,850.2 1669.0,849.7 C1671.5,849.7 1675.6,860.3 1678.3,861.0
C1680.9,861.0 1683.2,855.3 1685.0,854.3 C1686.8,854.3 1687.8,854.3 1689.2,855.1
C1690.6,857.1 1691.8,865.0 1693.5,866.1 C1695.1,866.1 1697.5,863.4 1699.4,861.9
C1701.2,860.3 1702.8,856.8 1704.4,856.8 C1706.1,858.5 1707.8,870.9 1709.5,872.0
C1711.2,872.0 1712.9,863.9 1714.6,863.6 C1716.3,863.6 1718.1,865.4 1719.6,870.3
C1721.2,875.3 1722.0,892.9 1723.9,893.1 C1725.8,893.1 1729.8,875.5 1731.0,872.0"/>
<path id="curve-a" stroke="#000000" stroke-width="9.8" d="M162.6,1077.8 L170.6,1077.8 L178.6,1077.8 L186.6,1077.8 L194.6,1077.8 L202.6,1077.8 L210.6,1077.8 L218.6,1077.8
L226.6,1077.8 L234.6,1077.8 L242.6,1077.8 L250.6,1077.8 L258.6,1077.8 L266.6,1077.8 L274.6,1077.8 L282.6,1077.8
L290.6,1077.8 L298.6,1077.8 L306.6,1077.8 L314.6,1077.8 L322.6,1077.8 L330.6,1077.7 L338.6,1077.7 L346.6,1077.7
L354.6,1077.7 L362.6,1077.7 L370.6,1077.7 L378.6,1077.7 L386.6,1077.6 L394.6,1077.6 L402.6,1077.6 L410.6,1077.5
L418.6,1077.5 L426.6,1077.4 L434.6,1077.4 L442.6,1077.3 L450.6,1077.2 L458.6,1077.0 L466.6,1076.9 L474.6,1076.6
L482.6,1076.2 L490.6,1075.5 L491.6,1075.4 L492.6,1075.3 L493.6,1075.1 L494.6,1075.0 L495.6,1074.8 L496.6,1074.7
L497.6,1074.5 L498.6,1074.3 L499.6,1074.1 L500.6,1073.8 L501.6,1073.6 L502.6,1073.3 L503.6,1073.0 L504.6,1072.6
L505.6,1072.2 L506.6,1071.8 L507.6,1071.3 L508.6,1070.7 L509.6,1070.1 L510.6,1069.4 L511.6,1068.5 L512.6,1067.5
L513.6,1066.3 L514.6,1064.9 L515.6,1063.2 L516.6,1061.1 L517.6,1058.5 L518.6,1055.3 L519.6,1051.3 L520.6,1046.4
L521.6,1040.4 L522.6,1033.2 L523.6,1024.8 L524.6,1015.0 L525.6,1004.2 L526.6,993.0 L527.6,982.5 L528.6,974.1
L529.6,969.7 L530.6,970.2 L531.6,975.5 L532.6,984.4 L533.6,995.2 L534.6,1006.4 L535.6,1016.9 L536.6,1026.4
L537.6,1034.6 L538.6,1041.5 L539.6,1047.3 L540.6,1052.0 L541.6,1055.8 L542.6,1058.8 L543.6,1061.3 L544.6,1063.3
L545.6,1064.9 L546.6,1066.2 L547.6,1067.3 L548.6,1068.3 L549.6,1069.1 L550.6,1069.7 L551.6,1070.3 L552.6,1070.9
L553.6,1071.3 L554.6,1071.7 L555.6,1072.1 L556.6,1072.4 L557.6,1072.6 L558.6,1072.9 L559.6,1073.1 L560.6,1073.3
L561.6,1073.5 L562.6,1073.6 L563.6,1073.8 L564.6,1073.9 L565.6,1074.0 L566.6,1074.1 L567.6,1074.2 L568.6,1074.2
L569.6,1074.3 L570.6,1074.3 L571.6,1074.3 L572.6,1074.4 L573.6,1074.4 L574.6,1074.4 L575.6,1074.4 L576.6,1074.3
L577.6,1074.3 L578.6,1074.3 L579.6,1074.2 L580.6,1074.1 L581.6,1074.1 L582.6,1074.0 L583.6,1073.9 L584.6,1073.7
L585.6,1073.6 L586.6,1073.4 L587.6,1073.2 L588.6,1073.0 L589.6,1072.8 L590.6,1072.5 L591.6,1072.2 L592.6,1071.8
L593.6,1071.4 L594.6,1070.9 L595.6,1070.4 L596.6,1069.7 L597.6,1068.9 L598.6,1068.0 L599.6,1066.8 L600.6,1065.4
L601.6,1063.6 L602.6,1061.4 L603.6,1058.4 L604.6,1054.6 L605.6,1049.7 L606.6,1043.5 L607.6,1035.7 L608.6,1026.2
L609.6,1015.2 L610.6,1003.3 L611.6,992.0 L612.6,983.4 L613.6,980.2 L614.6,983.3 L615.6,991.8 L616.6,1003.1
L617.6,1014.9 L618.6,1025.8 L619.6,1035.2 L620.6,1042.9 L621.6,1049.0 L622.6,1053.9 L623.6,1057.6 L624.6,1060.4
L625.6,1062.6 L626.6,1064.3 L627.6,1065.6 L628.6,1066.6 L629.6,1067.4 L630.6,1068.0 L631.6,1068.6 L632.6,1069.0
L633.6,1069.3 L634.6,1069.5 L635.6,1069.7 L636.6,1069.8 L637.6,1069.9 L638.6,1069.9 L639.6,1069.8 L640.6,1069.7
L641.6,1069.5 L642.6,1069.3 L643.6,1069.0 L644.6,1068.7 L645.6,1068.3 L646.6,1067.8 L647.6,1067.3 L648.6,1066.6
L649.6,1065.8 L650.6,1064.9 L651.6,1063.8 L652.6,1062.6 L653.6,1061.0 L654.6,1059.2 L655.6,1056.8 L656.6,1053.9
L657.6,1050.3 L658.6,1045.7 L659.6,1039.9 L660.6,1032.6 L661.6,1023.6 L662.6,1012.6 L663.6,999.5 L664.6,984.4
L665.6,967.4 L666.6,949.5 L667.6,932.1 L668.6,917.8 L669.6,909.2 L670.6,908.4 L671.6,915.6 L672.6,929.1
L673.6,946.1 L674.6,964.1 L675.6,981.4 L676.6,997.0 L677.6,1010.6 L678.6,1022.0 L679.6,1031.4 L680.6,1039.1
L681.6,1045.3 L682.6,1050.1 L683.6,1054.0 L684.6,1057.1 L685.6,1059.6 L686.6,1061.6 L687.6,1063.3 L688.6,1064.7
L689.6,1065.9 L690.6,1067.0 L691.6,1067.9 L692.6,1068.7 L693.6,1069.4 L694.6,1070.0 L695.6,1070.5 L696.6,1071.0
L697.6,1071.5 L698.6,1071.9 L699.6,1072.2 L700.6,1072.6 L701.6,1072.9 L702.6,1073.2 L703.6,1073.4 L704.6,1073.7
L705.6,1073.9 L706.6,1074.1 L707.6,1074.3 L708.6,1074.4 L709.6,1074.6 L710.6,1074.7 L711.6,1074.9 L712.6,1075.0
L713.6,1075.1 L714.6,1075.2 L715.6,1075.3 L723.6,1076.0 L731.6,1076.4 L739.6,1076.7 L747.6,1076.9 L755.6,1077.1
L763.6,1077.2 L771.6,1077.3 L779.6,1077.4 L787.6,1077.4 L795.6,1077.5 L803.6,1077.5 L811.6,1077.5 L819.6,1077.6
L827.6,1077.6 L835.6,1077.6 L843.6,1077.6 L851.6,1077.7 L859.6,1077.7 L867.6,1077.7 L875.6,1077.7 L883.6,1077.7
L891.6,1077.7 L899.6,1077.7 L907.6,1077.7 L915.6,1077.7 L923.6,1077.7 L931.6,1077.7 L939.6,1077.7 L947.6,1077.7
L955.6,1077.6 L963.6,1077.6 L971.6,1077.5 L979.6,1077.5 L987.6,1077.3 L988.6,1077.3 L989.6,1077.3 L990.6,1077.2
L991.6,1077.2 L992.6,1077.2 L993.6,1077.1 L994.6,1077.1 L995.6,1077.0 L996.6,1077.0 L997.6,1076.9 L998.6,1076.9
L999.6,1076.8 L1000.6,1076.7 L1001.6,1076.6 L1002.6,1076.5 L1003.6,1076.4 L1004.6,1076.3 L1005.6,1076.1
L1006.6,1075.8 L1007.6,1075.6 L1008.6,1075.2 L1009.6,1074.7 L1010.6,1074.1 L1011.6,1073.4 L1012.6,1072.4
L1013.6,1071.2 L1014.6,1069.8 L1015.6,1068.1 L1016.6,1066.1 L1017.6,1063.9 L1018.6,1061.5 L1019.6,1058.8
L1020.6,1056.2 L1021.6,1053.5 L1022.6,1051.1 L1023.6,1049.1 L1024.6,1047.7 L1025.6,1047.1 L1026.6,1047.4
L1027.6,1048.5 L1028.6,1050.3 L1029.6,1052.5 L1030.6,1055.1 L1031.6,1057.8 L1032.6,1060.4 L1033.6,1063.0
L1034.6,1065.3 L1035.6,1067.3 L1036.6,1069.2 L1037.6,1070.7 L1038.6,1072.0 L1039.6,1073.0 L1040.6,1073.8
L1041.6,1074.5 L1042.6,1075.0 L1043.6,1075.4 L1044.6,1075.7 L1045.6,1076.0 L1046.6,1076.2 L1047.6,1076.4
L1048.6,1076.5 L1049.6,1076.6 L1050.6,1076.7 L1051.6,1076.8 L1052.6,1076.9 L1053.6,1076.9 L1054.6,1077.0
L1055.6,1077.0 L1056.6,1077.1 L1057.6,1077.1 L1058.6,1077.2 L1059.6,1077.2 L1060.6,1077.2 L1061.6,1077.3
L1062.6,1077.3 L1063.6,1077.3 L1064.6,1077.3 L1065.6,1077.4 L1066.6,1077.4 L1067.6,1077.4 L1068.6,1077.4
L1069.6,1077.4 L1070.6,1077.5 L1071.6,1077.5 L1079.6,1077.6 L1087.6,1077.6 L1095.6,1077.7 L1103.6,1077.7
L1111.6,1077.7 L1119.6,1077.7 L1127.6,1077.7 L1135.6,1077.7 L1143.6,1077.8 L1151.6,1077.8 L1159.6,1077.8
L1167.6,1077.8 L1175.6,1077.8 L1183.6,1077.7 L1191.6,1077.7 L1199.6,1077.7 L1207.6,1077.7 L1215.6,1077.7
L1223.6,1077.7 L1231.6,1077.6 L1239.6,1077.6 L1247.6,1077.5 L1255.6,1077.4 L1263.6,1077.3 L1271.6,1077.0
L1272.6,1077.0 L1273.6,1076.9 L1274.6,1076.9 L1275.6,1076.8 L1276.6,1076.8 L1277.6,1076.7 L1278.6,1076.7
L1279.6,1076.6 L1280.6,1076.5 L1281.6,1076.4 L1282.6,1076.3 L1283.6,1076.2 L1284.6,1076.1 L1285.6,1075.9
L1286.6,1075.7 L1287.6,1075.5 L1288.6,1075.2 L1289.6,1074.9 L1290.6,1074.5 L1291.6,1074.0 L1292.6,1073.3
L1293.6,1072.5 L1294.6,1071.5 L1295.6,1070.2 L1296.6,1068.7 L1297.6,1066.8 L1298.6,1064.5 L1299.6,1061.9
L1300.6,1059.0 L1301.6,1055.7 L1302.6,1052.1 L1303.6,1048.4 L1304.6,1044.6 L1305.6,1040.9 L1306.6,1037.6
L1307.6,1034.8 L1308.6,1033.0 L1309.6,1032.2 L1310.6,1032.5 L1311.6,1034.0 L1312.6,1036.4 L1313.6,1039.5
L1314.6,1043.1 L1315.6,1046.8 L1316.6,1050.6 L1317.6,1054.3 L1318.6,1057.7 L1319.6,1060.8 L1320.6,1063.5
L1321.6,1065.9 L1322.6,1067.9 L1323.6,1069.6 L1324.6,1071.0 L1325.6,1072.1 L1326.6,1073.0 L1327.6,1073.7
L1328.6,1074.3 L1329.6,1074.8 L1330.6,1075.1 L1331.6,1075.4 L1332.6,1075.6 L1333.6,1075.8 L1334.6,1076.0
L1335.6,1076.1 L1336.6,1076.2 L1337.6,1076.4 L1338.6,1076.4 L1339.6,1076.5 L1340.6,1076.6 L1341.6,1076.7
L1342.6,1076.7 L1343.6,1076.8 L1344.6,1076.9 L1345.6,1076.9 L1346.6,1077.0 L1347.6,1077.0 L1348.6,1077.0
L1349.6,1077.1 L1350.6,1077.1 L1351.6,1077.1 L1352.6,1077.2 L1353.6,1077.2 L1354.6,1077.2 L1355.6,1077.2
L1363.6,1077.4 L1371.6,1077.5 L1379.6,1077.6 L1387.6,1077.6 L1395.6,1077.6 L1403.6,1077.6 L1411.6,1077.6
L1419.6,1077.6 L1427.6,1077.6 L1435.6,1077.6 L1443.6,1077.5 L1451.6,1077.5 L1459.6,1077.4 L1467.6,1077.2
L1468.6,1077.1 L1469.6,1077.1 L1470.6,1077.1 L1471.6,1077.0 L1472.6,1077.0 L1473.6,1076.9 L1474.6,1076.9
L1475.6,1076.8 L1476.6,1076.7 L1477.6,1076.7 L1478.6,1076.6 L1479.6,1076.5 L1480.6,1076.4 L1481.6,1076.3
L1482.6,1076.1 L1483.6,1075.9 L1484.6,1075.7 L1485.6,1075.4 L1486.6,1075.1 L1487.6,1074.7 L1488.6,1074.1
L1489.6,1073.5 L1490.6,1072.6 L1491.6,1071.7 L1492.6,1070.5 L1493.6,1069.1 L1494.6,1067.4 L1495.6,1065.6
L1496.6,1063.5 L1497.6,1061.2 L1498.6,1058.8 L1499.6,1056.2 L1500.6,1053.7 L1501.6,1051.2 L1502.6,1049.0
L1503.6,1047.1 L1504.6,1045.8 L1505.6,1045.2 L1506.6,1045.2 L1507.6,1046.0 L1508.6,1047.5 L1509.6,1049.4
L1510.6,1051.7 L1511.6,1054.2 L1512.6,1056.7 L1513.6,1059.3 L1514.6,1061.7 L1515.6,1063.9 L1516.6,1066.0
L1517.6,1067.8 L1518.6,1069.4 L1519.6,1070.7 L1520.6,1071.9 L1521.6,1072.8 L1522.6,1073.6 L1523.6,1074.2
L1524.6,1074.7 L1525.6,1075.1 L1526.6,1075.5 L1527.6,1075.7 L1528.6,1075.9 L1529.6,1076.1 L1530.6,1076.3
L1531.6,1076.4 L1532.6,1076.5 L1533.6,1076.6 L1534.6,1076.7 L1535.6,1076.7 L1536.6,1076.8 L1537.6,1076.9
L1538.6,1076.9 L1539.6,1077.0 L1540.6,1077.0 L1541.6,1077.0 L1542.6,1077.1 L1543.6,1077.1 L1544.6,1077.1
L1545.6,1077.2 L1546.6,1077.2 L1547.6,1077.2 L1548.6,1077.2 L1549.6,1077.3 L1550.6,1077.3 L1551.6,1077.3
L1559.6,1077.4 L1567.6,1077.5 L1575.6,1077.5 L1576.6,1077.5 L1577.6,1077.5 L1578.6,1077.5 L1579.6,1077.5
L1580.6,1077.5 L1581.6,1077.5 L1582.6,1077.5 L1583.6,1077.5 L1584.6,1077.5 L1585.6,1077.5 L1586.6,1077.5
L1587.6,1077.5 L1588.6,1077.5 L1589.6,1077.5 L1590.6,1077.5 L1591.6,1077.4 L1592.6,1077.4 L1593.6,1077.4
L1594.6,1077.4 L1595.6,1077.4 L1596.6,1077.4 L1597.6,1077.4 L1598.6,1077.3 L1599.6,1077.3 L1600.6,1077.3
L1601.6,1077.2 L1602.6,1077.2 L1603.6,1077.1 L1604.6,1077.0 L1605.6,1076.9 L1606.6,1076.7 L1607.6,1076.4
L1608.6,1076.1 L1609.6,1075.7 L1610.6,1075.3 L1611.6,1074.8 L1612.6,1074.2 L1613.6,1073.6 L1614.6,1073.0
L1615.6,1072.6 L1616.6,1072.3 L1617.6,1072.2 L1618.6,1072.3 L1619.6,1072.7 L1620.6,1073.2 L1621.6,1073.7
L1622.6,1074.3 L1623.6,1074.8 L1624.6,1075.3 L1625.6,1075.7 L1626.6,1076.0 L1627.6,1076.2 L1628.6,1076.4
L1629.6,1076.5 L1630.6,1076.6 L1631.6,1076.7 L1632.6,1076.7 L1633.6,1076.7 L1634.6,1076.7 L1635.6,1076.7
L1636.6,1076.6 L1637.6,1076.6 L1638.6,1076.5 L1639.6,1076.4 L1640.6,1076.4 L1641.6,1076.3 L1642.6,1076.1
L1643.6,1076.0 L1644.6,1075.8 L1645.6,1075.5 L1646.6,1075.2 L1647.6,1074.9 L1648.6,1074.4 L1649.6,1073.8
L1650.6,1073.1 L1651.6,1072.2 L1652.6,1071.1 L1653.6,1069.8 L1654.6,1068.3 L1655.6,1066.6 L1656.6,1064.7
L1657.6,1062.6 L1658.6,1060.4 L1659.6,1058.1 L1660.6,1055.8 L1661.6,1053.6 L1662.6,1051.7 L1663.6,1050.2
L1664.6,1049.2 L1665.6,1048.8 L1666.6,1049.1 L1667.6,1050.1 L1668.6,1051.6 L1669.6,1053.5 L1670.6,1055.6
L1671.6,1057.9 L1672.6,1060.2 L1673.6,1062.4 L1674.6,1064.4 L1675.6,1066.3 L1676.6,1067.9 L1677.6,1069.3
L1678.6,1070.6 L1679.6,1071.5 L1680.6,1072.3 L1681.6,1072.9 L1682.6,1073.3 L1683.6,1073.6 L1684.6,1073.7
L1685.6,1073.7 L1686.6,1073.5 L1687.6,1073.2 L1688.6,1072.8 L1689.6,1072.3 L1690.6,1071.7 L1691.6,1071.0
L1692.6,1070.1 L1693.6,1069.3 L1694.6,1068.4 L1695.6,1067.5 L1696.6,1066.7 L1697.6,1066.0 L1698.6,1065.4
L1699.6,1065.1 L1700.6,1065.0 L1701.6,1065.2 L1702.6,1065.7 L1703.6,1066.3 L1704.6,1067.1 L1705.6,1068.1
L1706.6,1069.0 L1707.6,1070.0 L1708.6,1071.0 L1709.6,1071.9 L1710.6,1072.7 L1711.6,1073.4 L1712.6,1074.1
L1713.6,1074.6 L1714.6,1075.1 L1715.6,1075.5 L1716.6,1075.8 L1717.6,1076.1 L1718.6,1076.3 L1719.6,1076.5
L1720.6,1076.7 L1721.6,1076.8 L1722.6,1076.9 L1723.6,1077.0 L1724.6,1077.0 L1725.6,1077.1 L1726.6,1077.1
L1727.6,1077.2 L1728.6,1077.2 L1729.6,1077.3 L1730.6,1077.3 L1731.6,1077.3 L1731.8,1077.3"/>
</g>
<!-- frame and ticks -->
<rect x="162.6" y="25.6" width="1569.2" height="1159.3" fill="none" stroke="#000" stroke-width="5.1"/>
<path d="M162.6,1184.9 V1209.6 M319.5,1184.9 V1198.5 M476.4,1184.9 V1209.6 M633.4,1184.9 V1198.5 M790.3,1184.9 V1209.6 M947.2,1184.9 V1198.5 M1104.1,1184.9 V1209.6 M1261.0,1184.9 V1198.5 M1418.0,1184.9 V1209.6 M1574.9,1184.9 V1198.5 M1731.8,1184.9 V1209.6" stroke="#000" stroke-width="5.1" fill="none"/>
<!-- tick labels -->
<g font-size="60.5" text-anchor="middle">
<text x="162.2" y="1273">20</text>
<text x="476.0" y="1273">30</text>
<text x="789.9" y="1273">40</text>
<text x="1103.7" y="1273">50</text>
<text x="1417.6" y="1273">60</text>
<text x="1731.4" y="1273">70</text>
</g>
<!-- axis titles -->
<text y="1372.6" font-size="93.5"><tspan x="744.3">2</tspan><tspan class="sym" x="796.8" font-size="86">θ</tspan><tspan x="842">(degree)</tspan></text>
<text transform="translate(95,624.5) rotate(-90)" font-size="94.3" text-anchor="middle">intensity(a.u.)</text>
<!-- legend -->
<g font-size="66.2">
<text x="754.6" y="118.4">(a) ZnO nanoparticals</text>
<text x="752.6" y="204.2">(b) SiO<tspan font-size="39" dy="26.8">2</tspan><tspan dy="-26.8">/ZnO hollow nanofibers</tspan></text>
<text x="754.6" y="279">(c) SiO<tspan font-size="39" dx="2" dy="26.8">2</tspan><tspan dy="-26.8"> nanofibers</tspan></text>
</g>
<!-- curve labels -->
<g font-size="92" text-anchor="middle">
<text x="238.3" y="211.5">(c)</text>
<text x="268.8" y="633.6">(b)</text>
<text x="283.3" y="1039.3">(a)</text>
</g>
<!-- peak labels -->
<g font-size="57" text-anchor="middle">
<text transform="translate(547.7,888) rotate(-90)">(100)</text>
<text transform="translate(619.5,905.7) rotate(-90)">(002)</text>
<text transform="translate(697.3,844.6) rotate(-90)">(101)</text>
<text transform="translate(1042.7,977.7) rotate(-90)">(102)</text>
<text transform="translate(1326.7,963.2) rotate(-90)">(110)</text>
<text transform="translate(1525.4,976) rotate(-90)">(103)</text>
<text transform="translate(1698.2,976.4) rotate(-90)">(112)</text>
</g>
<!-- ZnO markers -->
<path fill="#000" d="M536.4,503.6 L547.9,518 L536.4,532.4 L524.9,518 Z M613.3,557.7 L624.8,572.1 L613.3,586.5 L601.8,572.1 Z M677.5,616.8 L689.0,631.2 L677.5,645.6 L666.0,631.2 Z"/>
</svg>
</body>
</html>
